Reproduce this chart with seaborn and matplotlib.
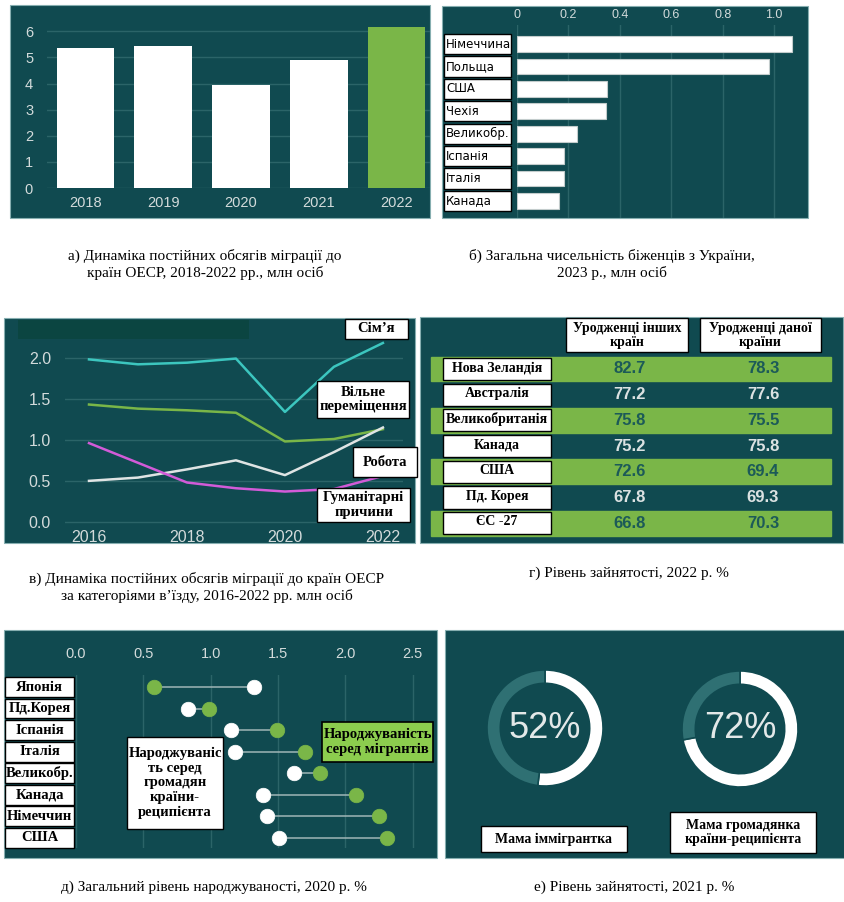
import numpy as np
import pandas as pd
import matplotlib
matplotlib.use("Agg")
import matplotlib.pyplot as plt
import seaborn as sns
from matplotlib.patches import Rectangle
from matplotlib.transforms import blended_transform_factory

# ---------------- data ----------------
years_a = ["2018", "2019", "2020", "2021", "2022"]
migr_a = [5.37, 5.43, 3.95, 4.90, 6.15]

countries_b = ["Німеччина", "Польща", "США", "Чехія", "Великобр.", "Іспанія", "Італія", "Канада"]
refugees_b = [1.07, 0.98, 0.35, 0.345, 0.233, 0.183, 0.183, 0.162]

years_c = [2016, 2017, 2018, 2019, 2020, 2021, 2022]
family_c = [1.98, 1.92, 1.94, 1.99, 1.34, 1.89, 2.18]
free_c = [1.43, 1.38, 1.36, 1.33, 0.98, 1.01, 1.13]
work_c = [0.50, 0.54, 0.64, 0.75, 0.57, 0.85, 1.15]
human_c = [0.96, 0.72, 0.48, 0.41, 0.37, 0.40, 0.56]
categories_c = ["Сім’я", "Вільне\nпереміщення", "Робота", "Гуманітарні\nпричини"]

countries_d = ["Нова Зеландія", "Австралія", "Великобританія", "Канада", "США", "Пд. Корея", "ЄС -27"]
foreign_d = [82.7, 77.2, 75.8, 75.2, 72.6, 67.8, 66.8]
native_d = [78.3, 77.6, 75.5, 75.8, 69.4, 69.3, 70.3]
headers_d = ["Уродженці інших\nкраїн", "Уродженці даної\nкраїни"]

countries_e = ["Японія", "Пд.Корея", "Іспанія", "Італія", "Великобр.", "Канада", "Німеччин", "США"]
native_e = [1.32, 0.83, 1.15, 1.18, 1.62, 1.39, 1.42, 1.51]
migrant_e = [0.58, 0.99, 1.49, 1.70, 1.81, 2.08, 2.25, 2.31]
labels_e = ["Народжуваніс\nть серед\nгромадян\nкраїни-\nреципієнта", "Народжуваність\nсеред мігрантів"]

share_f = [52, 72]
labels_f = ["Мама іммігрантка", "Мама громадянка\nкраїни-реципієнта"]

captions = [
    "а) Динаміка постійних обсягів міграції до\nкраїн ОЕСР, 2018-2022 рр., млн осіб",
    "б) Загальна чисельність біженців з України,\n2023 р., млн осіб",
    "в) Динаміка постійних обсягів міграції до країн ОЕСР\nза категоріями в’їзду, 2016-2022 рр. млн осіб",
    "г) Рівень зайнятості, 2022 р. %",
    "д) Загальний рівень народжуваності, 2020 р. %",
    "е) Рівень зайнятості, 2021 р. %",
]

# ---------------- style ----------------
BG = "#104a50"
GRID = "#2b6468"
GREEN = "#7ab648"
LIGHT = "#d3dbdb"
MUTED = "#2f7073"
SERIF = "Liberation Serif"
SANS = "Liberation Sans"

W, H = 845, 902
fig = plt.figure(figsize=(W / 100, H / 100), dpi=100)
fig.patch.set_facecolor("white")


def frect(x0, y0, x1, y1):
    return [x0 / W, 1 - y1 / H, (x1 - x0) / W, (y1 - y0) / H]


def panel_bg(x0, y0, x1, y1, color=BG, z=-5, edge="#86aeb0"):
    fig.add_artist(Rectangle((x0 / W, 1 - y1 / H), (x1 - x0) / W, (y1 - y0) / H,
                             transform=fig.transFigure, facecolor=color,
                             edgecolor=edge, lw=0.8, zorder=z))


def fbox(x0, y0, x1, y1, text, fs=10.5, fc="white", lw=1.0):
    fig.add_artist(Rectangle((x0 / W, 1 - y1 / H), (x1 - x0) / W, (y1 - y0) / H,
                             transform=fig.transFigure, facecolor=fc,
                             edgecolor="black", lw=lw, zorder=10))
    fig.text((x0 + x1) / 2 / W, 1 - (y0 + y1) / 2 / H, text, ha="center", va="center",
             family=SERIF, weight="bold", size=fs, color="black", linespacing=1.15, zorder=11)


def clean(ax):
    for s in ax.spines.values():
        s.set_visible(False)
    ax.set_facecolor("none")
    ax.set_xlabel("")
    ax.set_ylabel("")
    ax.tick_params(length=0, colors=LIGHT)


# ---------------- panel a ----------------
panel_bg(10, 5, 430, 218)
ax = fig.add_axes(frect(47, 8, 430, 188))
sns.barplot(x=years_a, y=migr_a, hue=years_a,
            palette=["white", "white", "white", "white", GREEN],
            legend=False, width=0.74, saturation=1, ax=ax)
clean(ax)
ax.set_xlim(-0.495, 4.43)
ax.set_ylim(0, 6.89)
ax.set_yticks(range(0, 7))
ax.grid(axis="y", color=GRID, lw=1)
ax.set_axisbelow(True)
ax.tick_params(axis="y", pad=10, labelsize=10.5)
ax.tick_params(axis="x", pad=6, labelsize=10.5)
for t in ax.get_xticklabels() + ax.get_yticklabels():
    t.set_family(SANS)

# ---------------- panel b ----------------
panel_bg(442, 6, 808, 218)
ax = fig.add_axes(frect(517, 25, 808, 218))
sns.barplot(x=refugees_b, y=countries_b, orient="h", color="white", saturation=1,
            width=0.7, edgecolor="#c3cccc", linewidth=0.8, ax=ax)
clean(ax)
ax.set_xlim(0, 1.132)
ax.set_ylim(7.76, -0.85)
ax.xaxis.tick_top()
ax.set_xticks([0, 0.2, 0.4, 0.6, 0.8, 1.0])
ax.set_xticklabels(["0", "0.2", "0.4", "0.6", "0.8", "1.0"])
ax.tick_params(axis="x", pad=3, labelsize=9)
ax.set_yticks([])
ax.grid(axis="x", color=GRID, lw=1)
ax.set_axisbelow(True)
for t in ax.get_xticklabels():
    t.set_family(SANS)
tb = blended_transform_factory(fig.transFigure, ax.transData)
for i, name in enumerate(countries_b):
    ax.add_patch(Rectangle((444 / W, i - 0.45), 67 / W, 0.9, transform=tb,
                           facecolor="white", edgecolor="black", lw=1.0,
                           clip_on=False, zorder=5))
    ax.text(446 / W, i, name, transform=tb, ha="left", va="center",
            family="DejaVu Sans", size=8.5, color="black", zorder=6, clip_on=False)

# ---------------- panel c ----------------
panel_bg(4, 318, 415, 543)
panel_bg(18, 320, 249, 339, color="#0b4541", z=-4, edge="none")
ax = fig.add_axes(frect(65, 320, 403, 526))
df_c = pd.DataFrame({
    "year": years_c * 4,
    "value": family_c + free_c + work_c + human_c,
    "cat": sum([[c] * len(years_c) for c in categories_c], []),
})
sns.lineplot(data=df_c, x="year", y="value", hue="cat", hue_order=categories_c,
             palette=["#3cc6bf", GREEN, "#dfe4e4", "#d25bd8"], lw=1.8,
             legend=False, ax=ax)
clean(ax)
ax.set_xlim(2015.51, 2022.41)
ax.set_ylim(-0.05, 2.46)
ax.set_yticks([0, 0.5, 1.0, 1.5, 2.0])
ax.set_yticklabels(["0.0", "0.5", "1.0", "1.5", "2.0"])
ax.set_xticks([2016, 2018, 2020, 2022])
ax.set_xticklabels(["2016", "2018", "2020", "2022"])
ax.grid(axis="y", color=GRID, lw=1)
ax.set_axisbelow(True)
ax.tick_params(axis="y", pad=10, labelsize=11.5)
ax.tick_params(axis="x", pad=3, labelsize=11.5)
for t in ax.get_xticklabels() + ax.get_yticklabels():
    t.set_family(SANS)
fbox(345, 319, 408, 339, categories_c[0])
fbox(317, 381, 409, 418, categories_c[1])
fbox(353, 447, 417, 477, categories_c[2])
fbox(317, 488, 410, 522, categories_c[3])

# ---------------- panel d (table) ----------------
panel_bg(420, 317, 843, 543)
ax = fig.add_axes(frect(420, 317, 843, 543))
ax.set_axis_off()
ax.set_xlim(0, 1)
ax.set_ylim(6.77, -2.02)
col_x = [0.496, 0.811]
for i in range(len(countries_d)):
    on_green = i % 2 == 0
    if on_green:
        ax.axhspan(i - 0.48, i + 0.48, xmin=0.026, xmax=0.972, color=GREEN, zorder=1)
    tc = "#1c5a58" if on_green else "#dbe2e2"
    for cx, v in zip(col_x, [foreign_d[i], native_d[i]]):
        ax.text(cx, i, f"{v:.1f}", ha="center", va="center", family=SANS,
                weight="bold", size=12, color=tc, zorder=3)
    ax.add_patch(Rectangle((0.054, i - 0.43), 0.256, 0.86, facecolor="white",
                           edgecolor="black", lw=1.0, zorder=4))
    ax.text(0.182, i - 0.05, countries_d[i], ha="center", va="center", family=SERIF,
            weight="bold", size=10, color="black", zorder=5)
for cx, h in zip(col_x, headers_d):
    ax.add_patch(Rectangle((cx - 0.15, -1.98), 0.287, 1.32, facecolor="white",
                           edgecolor="black", lw=1.0, zorder=4))
    ax.text(cx - 0.006, -1.32, h, ha="center", va="center", family=SERIF,
            weight="bold", size=10, color="black", zorder=5, linespacing=1.1)

# ---------------- panel e (dumbbell) ----------------
panel_bg(4, 630, 437, 858)
ax = fig.add_axes(frect(76, 675, 437, 848))
rows_e = np.arange(len(countries_e))
ax.hlines(rows_e, np.minimum(native_e, migrant_e), np.maximum(native_e, migrant_e),
          color="#a8bcbc", lw=1.3, alpha=0.8, zorder=2)
sns.scatterplot(x=native_e, y=rows_e, color="white", s=110, edgecolor="white",
                linewidth=0.5, zorder=3, ax=ax)
sns.scatterplot(x=migrant_e, y=rows_e, color=GREEN, s=110, edgecolor=GREEN,
                linewidth=0.5, zorder=3, ax=ax)
clean(ax)
ax.set_xlim(0, 2.68)
ax.set_ylim(7.48, -0.56)
ax.xaxis.tick_top()
ax.set_xticks([0, 0.5, 1.0, 1.5, 2.0, 2.5])
ax.set_xticklabels(["0.0", "0.5", "1.0", "1.5", "2.0", "2.5"])
ax.set_yticks([])
ax.grid(axis="x", color=GRID, lw=1)
ax.set_axisbelow(True)
ax.tick_params(axis="x", pad=10, labelsize=10.5)
for t in ax.get_xticklabels():
    t.set_family(SANS)
te = blended_transform_factory(fig.transFigure, ax.transData)
for i, name in enumerate(countries_e):
    ax.add_patch(Rectangle((5 / W, i - 0.46), 69 / W, 0.92, transform=te,
                           facecolor="white", edgecolor="black", lw=1.0,
                           clip_on=False, zorder=5))
    ax.text(39.5 / W, i, name, transform=te, ha="center", va="center",
            family=SERIF, weight="bold", size=10.5, color="black", zorder=6, clip_on=False)
fbox(127, 737, 223, 829, labels_e[0], fs=10.5)
fbox(322, 722, 433, 762, labels_e[1], fs=10.5, fc="#8ccd4e", lw=1.2)

# ---------------- panel f (donuts) ----------------
panel_bg(445, 630, 845, 858)
for (cx, cy), pct in zip([(545, 728), (740, 729)], share_f):
    ax = fig.add_axes(frect(cx - 65, cy - 65, cx + 65, cy + 65))
    ax.pie([pct, 100 - pct], colors=["white", MUTED], startangle=90, counterclock=False,
           radius=1, wedgeprops=dict(width=0.23, edgecolor=BG, linewidth=1.2))
    ax.set_xlim(-1.12, 1.12)
    ax.set_ylim(-1.12, 1.12)
    ax.set_aspect("equal")
    ax.set_facecolor("none")
    ax.text(0, 0, f"{pct}%", ha="center", va="center", family=SANS, size=26,
            color="#e3e8e8")
fbox(481, 826, 627, 852, labels_f[0], fs=10)
fbox(670, 812, 816, 853, labels_f[1], fs=10)

# ---------------- captions ----------------
cap_pos = [(205, 264.5), (612, 264.5), (207, 587.5), (629, 573), (214, 887), (634, 887)]
for (x, y), c in zip(cap_pos, captions):
    fig.text(x / W, 1 - y / H, c, ha="center", va="center", family=SERIF, size=11,
             color="black", linespacing=1.3)

fig.savefig("out.png", dpi=100, facecolor="white")
